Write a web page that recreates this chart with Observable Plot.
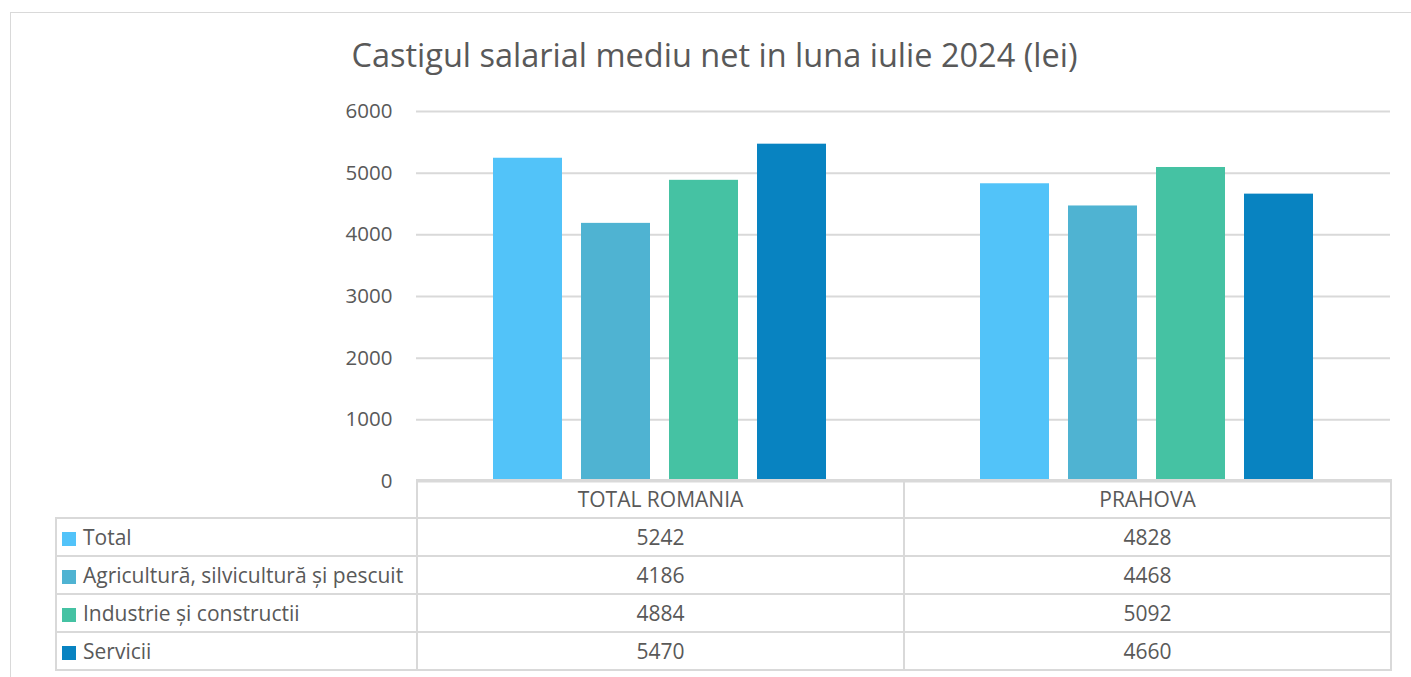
<!DOCTYPE html>
<html>
<head>
<meta charset="utf-8">
<script src="https://cdn.jsdelivr.net/npm/d3@7"></script>
<script src="https://cdn.jsdelivr.net/npm/@observablehq/plot@0.6"></script>
<style>
  html, body { margin: 0; padding: 0; background: #fff; }
  #wrap { position: relative; width: 1411px; height: 677px; overflow: hidden; font-family: "Open Sans", sans-serif; color: #595959; }
  #frame { position: absolute; left: 10px; top: 12px; width: 1500px; height: 800px; border-left: 1px solid #d9d9d9; border-top: 1px solid #d9d9d9; }
  #title { position: absolute; left: 0; top: 33px; width: 1429px; text-align: center; font-size: 32.5px; line-height: 44px; white-space: nowrap; }
  #chart { position: absolute; left: 0; top: 0; }
  #tbl { position: absolute; left: 55px; top: 479px; border-collapse: collapse; table-layout: fixed; font-size: 21px; }
  #tbl tr { height: 38px; }
  #tbl td { border: 2px solid #d9d9d9; padding: 0; text-align: center; white-space: nowrap; overflow: hidden; line-height: 30px; }
  #tbl td.blank { border: none; border-right: 2px solid #d9d9d9; }
  #tbl td.lab { text-align: left; padding-left: 5px; }
  .key { display: inline-block; width: 14px; height: 14px; margin-right: 7px; vertical-align: -1px; }
</style>
</head>
<body>
<div id="wrap">
  <div id="frame"></div>
  <div id="chart"></div>
  <div id="title"></div>
  <table id="tbl"></table>
</div>
<script>
const titleText = "Castigul salarial mediu net in luna iulie 2024 (lei)";
const regions = ["TOTAL ROMANIA", "PRAHOVA"];
const series = ["Total", "Agricultură, silvicultură și pescuit", "Industrie și constructii", "Servicii"];
const colors = ["#52C3F9", "#4FB3D2", "#45C2A3", "#0883C1"];
const valTotal = [5242, 4828];
const valAgri = [4186, 4468];
const valInd = [4884, 5092];
const valServ = [5470, 4660];
const yTicks = [0, 1000, 2000, 3000, 4000, 5000, 6000];

const seriesValues = [valTotal, valAgri, valInd, valServ];
const data = [];
regions.forEach((r, i) => series.forEach((s, j) => data.push({region: r, series: s, value: seriesValues[j][i]})));

document.getElementById("title").textContent = titleText;

const plot = Plot.plot({
  width: 1411,
  height: 677,
  marginTop: 111,
  marginBottom: 196,
  marginLeft: 416,
  marginRight: 21,
  style: {fontFamily: "Open Sans, sans-serif", fontSize: "20.5px", color: "#595959", background: "transparent"},
  fx: {domain: regions, padding: 0, axis: null, label: null},
  x: {domain: series, paddingInner: 0.2135, paddingOuter: 0.843, axis: null, label: null},
  y: {domain: [0, 6000], axis: null, label: null},
  color: {domain: series, range: colors},
  marks: [
    Plot.ruleY(yTicks, {stroke: "#d9d9d9", strokeWidth: 2}),
    Plot.barY(data, {fx: "region", x: "series", y: "value", fill: "series"}),
    Plot.axisY(yTicks, {anchor: "left", tickSize: 0, tickPadding: 24, fill: "#595959", fontSize: 20.5, label: null, tickFormat: d => String(d)})
  ]
});
document.getElementById("chart").appendChild(plot);

// data table
const tbl = document.getElementById("tbl");
const colWidths = [361, 487, 487];
const cg = document.createElement("colgroup");
colWidths.forEach(w => { const c = document.createElement("col"); c.style.width = w + "px"; cg.appendChild(c); });
tbl.appendChild(cg);
const hr = document.createElement("tr");
const blank = document.createElement("td"); blank.className = "blank"; hr.appendChild(blank);
regions.forEach(r => { const td = document.createElement("td"); td.textContent = r; hr.appendChild(td); });
tbl.appendChild(hr);
series.forEach((s, j) => {
  const tr = document.createElement("tr");
  const lab = document.createElement("td"); lab.className = "lab";
  const key = document.createElement("span"); key.className = "key"; key.style.background = colors[j];
  lab.appendChild(key); lab.appendChild(document.createTextNode(s));
  tr.appendChild(lab);
  regions.forEach((r, i) => { const td = document.createElement("td"); td.textContent = seriesValues[j][i]; tr.appendChild(td); });
  tbl.appendChild(tr);
});
</script>
</body>
</html>
